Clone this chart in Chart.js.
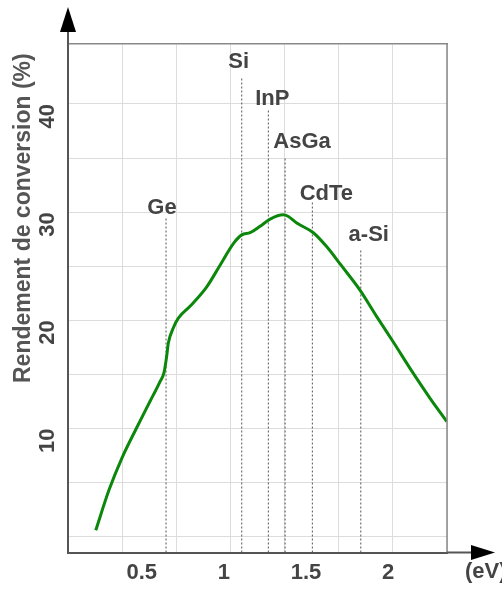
<!DOCTYPE html>
<html lang="fr">
<head>
  <meta charset="UTF-8" />
  <title>Rendement de conversion</title>
  <script src="https://cdn.jsdelivr.net/npm/chart.js"></script>
  <style>
    html, body { margin: 0; padding: 0; background: #fff; overflow: hidden; }
    canvas { display: block; }
  </style>
</head>
<body>
  <canvas id="chart" width="502" height="592"></canvas>

  <script>
    // Courbe : rendement (%) en fonction du gap (eV)
    const energy = [0.22, 0.30, 0.38, 0.47, 0.55, 0.61, 0.636, 0.652, 0.662, 0.692, 0.723, 0.794, 0.896, 0.977, 1.058, 1.109, 1.16, 1.221, 1.282, 1.362, 1.393, 1.444, 1.545, 1.627, 1.714, 1.829, 1.931, 2.032, 2.154, 2.256, 2.358];
    const efficiency = [0.6, 4.3, 7.3, 10.1, 12.5, 14.3, 15.2, 16.7, 17.9, 19.3, 20.2, 21.3, 23.1, 25.1, 27.1, 27.9, 28.1, 28.7, 29.35, 29.75, 29.6, 29.0, 28.1, 26.8, 25.1, 22.8, 20.35, 18.0, 15.1, 12.8, 10.65];

    // Matériaux : gap (eV) et hauteur du trait pointillé (%)
    const materials = ['Ge', 'Si', 'InP', 'AsGa', 'CdTe', 'a-Si'];
    const gapEnergy = [0.648, 1.109, 1.271, 1.373, 1.539, 1.834];
    const lineTop = [29.44, 42.47, 39.45, 35.13, 30.97, 26.45];

    // Graduations
    const xTicks = [0.5, 1, 1.5, 2];
    const yTicks = [0, 5, 10, 15, 20, 25, 30, 35, 40];
    const gridCols = [0, 1, 2, 3, 4, 5, 6, 7];

    // placement des étiquettes (px) par rapport au haut du trait
    const labelDx = [-4, -3, 4, 17, 14, 8];
    const labelGap = [4, 9, 5, 9, 2, 10];

    const FONT = '"Liberation Sans", Arial, sans-serif';
    const TEXT = '#444';
    const yMin = -1.45, yMax = 45.54;

    const decor = {
      id: 'decor',
      afterDraw(chart) {
        const ctx = chart.ctx;
        const a = chart.chartArea;
        const xs = chart.scales.x, ys = chart.scales.y;
        ctx.save();

        // bord droit
        ctx.strokeStyle = '#888';
        ctx.lineWidth = 1.5;
        ctx.beginPath();
        ctx.moveTo(a.right, a.top);
        ctx.lineTo(a.right, a.bottom);
        ctx.stroke();

        // prolongement des axes + flèches
        ctx.strokeStyle = '#555';
        ctx.lineWidth = 2;
        ctx.beginPath();
        ctx.moveTo(a.left, a.top);
        ctx.lineTo(a.left, a.top - 13);
        ctx.moveTo(a.right, a.bottom);
        ctx.lineTo(a.right + 25, a.bottom);
        ctx.stroke();

        ctx.fillStyle = '#000';
        ctx.beginPath();
        ctx.moveTo(a.left, 7);
        ctx.lineTo(a.left - 8, a.top - 12);
        ctx.lineTo(a.left + 8, a.top - 12);
        ctx.closePath();
        ctx.fill();
        ctx.beginPath();
        ctx.moveTo(a.right + 48, a.bottom);
        ctx.lineTo(a.right + 24, a.bottom - 7.5);
        ctx.lineTo(a.right + 24, a.bottom + 7.5);
        ctx.closePath();
        ctx.fill();

        // unité de l'axe x
        ctx.fillStyle = TEXT;
        ctx.font = 'bold 22px ' + FONT;
        ctx.textAlign = 'left';
        ctx.textBaseline = 'middle';
        ctx.fillText('(eV)', a.right + 18, a.bottom + 19);

        // titre de l'axe y
        ctx.save();
        ctx.translate(24, 383);
        ctx.rotate(-Math.PI / 2);
        ctx.fillStyle = '#555';
        ctx.font = 'bold 23px ' + FONT;
        ctx.textAlign = 'left';
        ctx.textBaseline = 'middle';
        ctx.fillText('Rendement de conversion (%)', 0, 0);
        ctx.restore();

        // noms des matériaux
        ctx.fillStyle = TEXT;
        ctx.font = 'bold 22px ' + FONT;
        ctx.textAlign = 'center';
        ctx.textBaseline = 'alphabetic';
        materials.forEach((m, i) => {
          const px = xs.getPixelForValue(gapEnergy[i]) + labelDx[i];
          const py = ys.getPixelForValue(lineTop[i]) - labelGap[i];
          ctx.fillText(m, px, py);
        });

        ctx.restore();
      }
    };

    const dashedSets = materials.map((m, i) => ({
      label: m,
      data: [{ x: gapEnergy[i], y: yMin }, { x: gapEnergy[i], y: lineTop[i] }],
      borderColor: '#555',
      borderWidth: 1,
      borderDash: [2, 2],
      pointRadius: 0,
      order: 1
    }));

    new Chart(document.getElementById('chart'), {
      type: 'line',
      data: {
        datasets: [{
          label: 'Rendement',
          data: energy.map((e, i) => ({ x: e, y: efficiency[i] })),
          borderColor: '#0b870b',
          borderWidth: 3,
          pointRadius: 0,
          cubicInterpolationMode: 'monotone',
          order: 0
        }, ...dashedSets]
      },
      options: {
        responsive: false,
        animation: false,
        layout: { padding: { left: 0, right: 55, top: 44, bottom: 0 } },
        plugins: { legend: { display: false }, tooltip: { enabled: false } },
        scales: {
          x: {
            type: 'linear',
            position: 'bottom',
            min: 0.051,
            max: 2.359,
            afterBuildTicks: s => { s.ticks = xTicks.map(v => ({ value: v })); },
            afterFit: s => { s.height = 39.5; },
            grid: { display: false, drawTicks: false },
            border: { color: '#555', width: 2 },
            ticks: {
              color: TEXT,
              font: { family: FONT, size: 22, weight: 'bold' },
              padding: 7,
              maxRotation: 0,
              autoSkip: false,
              callback: v => String(v)
            }
          },
          xGrid: {
            type: 'linear',
            position: 'top',
            min: 0,
            max: 7,
            afterBuildTicks: s => { s.ticks = gridCols.map(v => ({ value: v })); },
            afterFit: s => { s.height = 0; },
            ticks: { display: false },
            grid: { color: '#dcdcdc', lineWidth: 1, drawTicks: false },
            border: { color: '#888', width: 1.5 }
          },
          y: {
            min: yMin,
            max: yMax,
            afterBuildTicks: s => { s.ticks = yTicks.map(v => ({ value: v })); },
            afterFit: s => { s.width = 68; },
            grid: { color: '#dcdcdc', lineWidth: 1, drawTicks: false },
            border: { color: '#555', width: 2 },
            ticks: {
              color: TEXT,
              font: { family: FONT, size: 22, weight: 'bold' },
              padding: 20,
              minRotation: 90,
              maxRotation: 90,
              autoSkip: false,
              callback: v => (v > 0 && v % 10 === 0) ? String(v) : ''
            }
          }
        }
      },
      plugins: [decor]
    });
  </script>
</body>
</html>
